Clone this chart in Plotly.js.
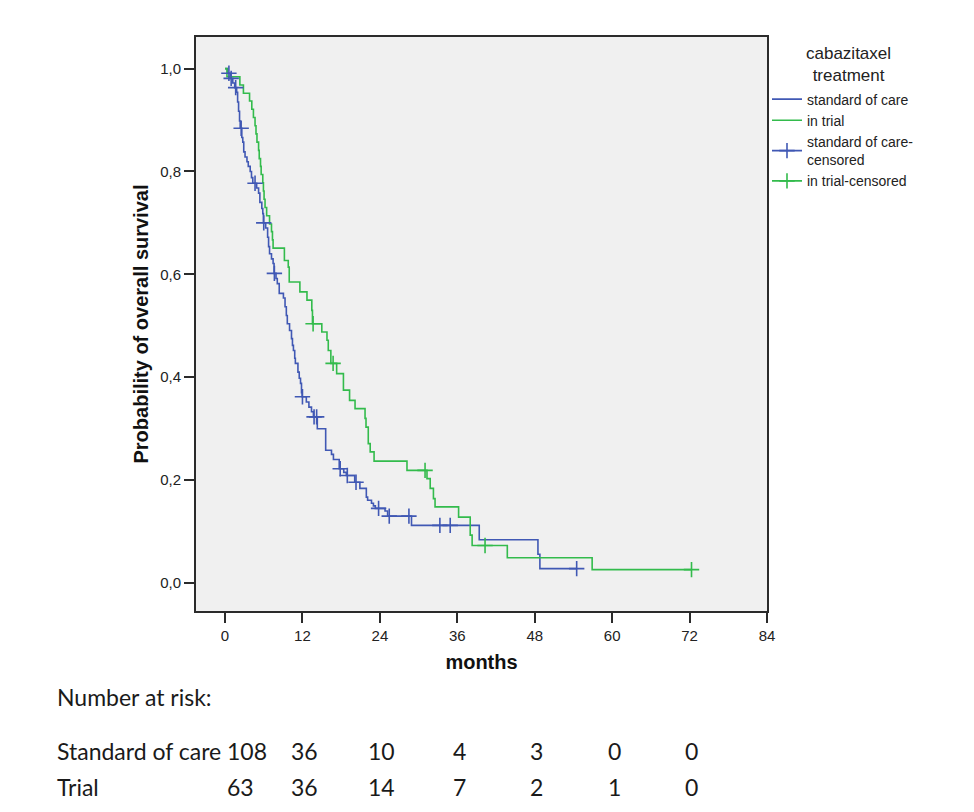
<!DOCTYPE html>
<html>
<head>
<meta charset="utf-8">
<script src="https://cdn.plot.ly/plotly-3.0.1.min.js"></script>
<style>
  html, body { margin: 0; padding: 0; background: #ffffff; }
  #chart { width: 974px; height: 812px; }
</style>
</head>
<body>
<div id="chart"></div>
<script>
// ---- Data (Kaplan-Meier estimates) ----
// Standard of care: time (months) at which survival steps to the given value
const socTime = [0, 0.4, 0.8, 1.2, 1.5, 1.8, 1.95, 2.1, 2.25, 2.35, 2.6, 2.75, 2.9, 3.1, 3.4, 3.6, 3.9, 4.1, 4.3,
  4.9, 5.2, 5.4, 5.7, 5.85, 5.95, 6.3, 6.6, 6.75, 6.9, 7.2, 7.45, 7.6, 7.9, 8.1, 8.4, 9.05, 9.3, 9.5, 9.65,
  10.0, 10.3, 10.45, 10.6, 10.8, 10.9, 11.3, 11.5, 11.7, 11.85, 11.95, 12.6, 13.0, 13.4, 13.7, 14.3, 15.6,
  16.5, 16.8, 17.7, 18.4, 18.8, 20.1, 20.9, 21.9, 22.1, 22.7, 23.0, 23.3, 24.8, 25.2, 28.9, 39.4, 48.5, 48.8, 54.5];
const socSurv = [1.0, 0.991, 0.981, 0.972, 0.963, 0.954, 0.935, 0.917, 0.898, 0.884, 0.866, 0.857, 0.838, 0.828,
  0.819, 0.810, 0.800, 0.788, 0.777, 0.768, 0.758, 0.740, 0.728, 0.718, 0.700, 0.690, 0.672, 0.654, 0.640,
  0.630, 0.621, 0.602, 0.592, 0.582, 0.563, 0.554, 0.537, 0.520, 0.504, 0.491, 0.475, 0.462, 0.452, 0.437,
  0.427, 0.410, 0.398, 0.388, 0.370, 0.362, 0.352, 0.342, 0.333, 0.323, 0.300, 0.258, 0.250, 0.240, 0.222,
  0.215, 0.209, 0.196, 0.184, 0.167, 0.161, 0.155, 0.150, 0.145, 0.140, 0.130, 0.112, 0.084, 0.056, 0.028, 0.028];
const socCensTime = [0.6, 0.95, 1.65, 2.5, 4.65, 6.0, 7.65, 12.0, 13.8, 14.2, 17.85, 18.95, 20.3, 23.8, 25.45, 28.5, 33.3, 34.9, 54.5];
const socCensSurv = [0.991, 0.981, 0.963, 0.884, 0.777, 0.700, 0.602, 0.362, 0.323, 0.323, 0.222, 0.209, 0.196, 0.145, 0.130, 0.130, 0.112, 0.112, 0.028];

// In trial
const trialTime = [0, 0.3, 2.3, 2.85, 3.8, 4.15, 4.4, 4.65, 4.8, 4.95, 5.2, 5.3, 5.5, 5.6, 5.85, 5.95, 6.05, 6.2,
  6.45, 6.9, 7.2, 7.35, 7.45, 9.2, 9.8, 9.95, 11.6, 12.7, 13.45, 13.55, 15.0, 15.8, 16.0, 16.4, 17.3, 18.35,
  19.3, 20.15, 21.7, 21.85, 22.2, 22.5, 23.1, 28.2, 31.3, 31.8, 32.3, 32.55, 36.2, 38.0, 38.3, 43.75, 56.9, 72.3];
const trialSurv = [1.0, 0.984, 0.968, 0.952, 0.937, 0.921, 0.905, 0.889, 0.873, 0.857, 0.841, 0.825, 0.810, 0.794,
  0.778, 0.762, 0.746, 0.730, 0.714, 0.698, 0.683, 0.667, 0.651, 0.627, 0.614, 0.585, 0.566, 0.550, 0.530,
  0.504, 0.488, 0.472, 0.452, 0.427, 0.407, 0.375, 0.355, 0.339, 0.320, 0.303, 0.271, 0.255, 0.237, 0.219,
  0.203, 0.184, 0.164, 0.148, 0.128, 0.093, 0.073, 0.049, 0.026, 0.026];
const trialCensTime = [13.65, 16.75, 31.0, 40.3, 72.3];
const trialCensSurv = [0.504, 0.427, 0.219, 0.073, 0.026];

// Axis ticks
const xTicks = [0, 12, 24, 36, 48, 60, 72, 84];
const yTicks = [0, 0.2, 0.4, 0.6, 0.8, 1.0];
const yTickLabels = ['0,0', '0,2', '0,4', '0,6', '0,8', '1,0'];

// Number at risk table
const riskTimes = [0, 12, 24, 36, 48, 60, 72];
const socRisk = [108, 36, 10, 4, 3, 0, 0];
const trialRisk = [63, 36, 14, 7, 2, 1, 0];
const riskRowLabels = ['Standard of care', 'Trial'];

// Series names and legend title
const names = ['standard of care', 'in trial', 'standard of care-<br>censored', 'in trial-censored'];
const legendTitle = 'cabazitaxel<br>treatment';

// ---- Build chart ----
const BLUE = '#4058b4';
const GREEN = '#33bb4c';
const FONT = "'Liberation Sans', Arial, sans-serif";

function gapped(arr) {
  const out = [];
  arr.forEach((v, i) => { out.push(v); if (i < arr.length - 1) out.push(null); });
  return out;
}

const traces = [
  { x: socTime, y: socSurv, type: 'scatter', mode: 'lines', name: names[0],
    line: { color: BLUE, width: 1.6, shape: 'hv' }, hoverinfo: 'skip' },
  { x: trialTime, y: trialSurv, type: 'scatter', mode: 'lines', name: names[1],
    line: { color: GREEN, width: 1.6, shape: 'hv' }, hoverinfo: 'skip' },
  { x: gapped(socCensTime), y: gapped(socCensSurv), type: 'scatter', mode: 'lines+markers', name: names[2],
    connectgaps: false, line: { color: BLUE, width: 1.6 },
    marker: { symbol: 'cross-thin', size: 11, color: BLUE, line: { color: BLUE, width: 1.6 } }, hoverinfo: 'skip' },
  { x: gapped(trialCensTime), y: gapped(trialCensSurv), type: 'scatter', mode: 'lines+markers', name: names[3],
    connectgaps: false, line: { color: GREEN, width: 1.6 },
    marker: { symbol: 'cross-thin', size: 11, color: GREEN, line: { color: GREEN, width: 1.6 } }, hoverinfo: 'skip' }
];

const riskFont = { family: "Lato, 'Open Sans', sans-serif", size: 23, color: '#1a1a1a' };
const annotations = [
  { text: 'Number at risk:', xref: 'paper', yref: 'paper', x: -0.247, y: -0.1498,
    xanchor: 'left', yanchor: 'middle', showarrow: false, font: riskFont },
  { text: riskRowLabels[0], xref: 'paper', yref: 'paper', x: -0.247, y: -0.2439,
    xanchor: 'left', yanchor: 'middle', showarrow: false, font: riskFont },
  { text: riskRowLabels[1], xref: 'paper', yref: 'paper', x: -0.247, y: -0.3066,
    xanchor: 'left', yanchor: 'middle', showarrow: false, font: riskFont },
  { text: legendTitle, xref: 'paper', yref: 'paper', x: 1.142, y: 0.952,
    xanchor: 'center', yanchor: 'middle', align: 'center', showarrow: false,
    font: { family: FONT, size: 17, color: '#222' } }
];
[socRisk, trialRisk].forEach((row, r) => {
  row.forEach((v, i) => {
    annotations.push({
      text: String(v), xref: 'x', yref: 'paper', x: riskTimes[i], y: r === 0 ? -0.2439 : -0.3066,
      xanchor: i === 0 ? 'left' : 'center', xshift: i === 0 ? 0 : 2, yanchor: 'middle',
      showarrow: false, font: riskFont
    });
  });
});

const axisCommon = {
  showline: true, linecolor: '#2b2b2b', linewidth: 2, mirror: true,
  ticks: 'outside', ticklen: 10, tickwidth: 2, tickcolor: '#2b2b2b',
  showgrid: false, zeroline: false,
  tickfont: { family: FONT, size: 15, color: '#222' }
};

const layout = {
  width: 974, height: 812,
  margin: { l: 196, r: 207, t: 37, b: 201 },
  paper_bgcolor: '#ffffff', plot_bgcolor: '#f0f0f0',
  font: { family: FONT, color: '#222' },
  showlegend: true,
  xaxis: Object.assign({}, axisCommon, {
    range: [-4.5, 84], tickvals: xTicks, ticktext: xTicks.map(String),
    title: { text: '<b>months</b>', font: { family: FONT, size: 20, color: '#111' }, standoff: 12 }
  }),
  yaxis: Object.assign({}, axisCommon, {
    range: [-0.0544, 1.0614], tickvals: yTicks, ticktext: yTickLabels,
    title: { text: '<b>Probability of overall survival</b>', font: { family: FONT, size: 20, color: '#111' }, standoff: 6 }
  }),
  legend: {
    x: 1.0, xanchor: 'left', y: 0.919, yanchor: 'top',
    bgcolor: 'rgba(0,0,0,0)', borderwidth: 0, tracegroupgap: 0,
    font: { family: FONT, size: 14, color: '#222' }
  },
  annotations: annotations
};

Plotly.newPlot('chart', traces, layout, { displayModeBar: false, staticPlot: true });
</script>
</body>
</html>
